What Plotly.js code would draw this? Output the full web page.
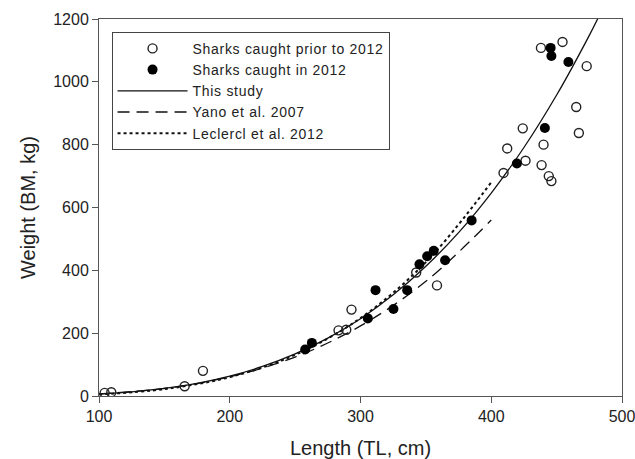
<!DOCTYPE html>
<html>
<head>
<meta charset="utf-8">
<script src="https://cdn.plot.ly/plotly-3.0.1.min.js"></script>
<style>html,body{margin:0;padding:0;background:#fff;}#chart{width:635px;height:459px;}
.legendtext{letter-spacing:0.7px;}</style>
</head>
<body>
<div id="chart"></div>
<script>
// Sharks caught prior to 2012 (open circles)
var priorLength = [104.3, 109.4, 165.5, 179.5, 283.2, 289.1, 293.1, 342.6, 358.5, 409.4, 412.2, 424.1, 426.2, 438, 438.5, 440, 444, 446, 454.5, 465, 467, 473];
var priorWeight = [10, 12, 31, 80, 209, 211, 275, 393, 352, 710, 788, 852, 749, 1108, 735, 800, 700, 684, 1127, 920, 837, 1050];

// Sharks caught in 2012 (filled circles)
var y2012Length = [257.7, 262.8, 305.6, 311.5, 325.2, 335.7, 345.1, 351, 356, 364.7, 385, 419.6, 441, 445.4, 446, 459];
var y2012Weight = [148, 169, 247, 337, 277, 337, 419, 445, 462, 432, 559, 740, 853, 1108, 1082, 1063];

// This study (solid curve)
var studyLength = [100, 125, 150, 175, 200, 225, 250, 275, 300, 325, 350, 375, 400, 425, 450, 475, 485];
var studyWeight = [6, 13, 24, 40, 63, 94, 134, 184, 246, 322, 413, 520, 646, 791, 958, 1148, 1231];

// Yano et al. 2007 (dashed curve)
var yanoLength = [100, 150, 200, 250, 300, 350, 400];
var yanoWeight = [7, 24, 61, 124, 223, 365, 560];

// Leclercl et al. 2012 (dotted curve)
var lecLength = [100, 150, 200, 250, 300, 350, 400];
var lecWeight = [5, 22, 60, 131, 248, 426, 680];

var xTicks = [100, 200, 300, 400, 500];
var yTicks = [0, 200, 400, 600, 800, 1000, 1200];

var FONT = 'Liberation Sans, Arial, sans-serif';

var traces = [
  {x: studyLength, y: studyWeight, mode: 'lines', name: 'This study', legendrank: 3,
   line: {color: '#111', width: 1.3, shape: 'spline'}},
  {x: yanoLength, y: yanoWeight, mode: 'lines', name: 'Yano et al. 2007', legendrank: 4,
   line: {color: '#111', width: 1.3, dash: '12px,7px', shape: 'spline'}},
  {x: lecLength, y: lecWeight, mode: 'lines', name: 'Leclercl et al. 2012', legendrank: 5,
   line: {color: '#111', width: 2, dash: 'dot', shape: 'spline'}},
  {x: priorLength, y: priorWeight, mode: 'markers', name: 'Sharks caught prior to 2012', legendrank: 1,
   marker: {symbol: 'circle-open', size: 9, color: '#222', line: {width: 1.4, color: '#222'}}},
  {x: y2012Length, y: y2012Weight, mode: 'markers', name: 'Sharks caught in 2012', legendrank: 2,
   marker: {symbol: 'circle', size: 10, color: '#000'}}
];

var layout = {
  width: 635, height: 459,
  margin: {l: 99, r: 13, t: 19, b: 63},
  paper_bgcolor: '#fff', plot_bgcolor: '#fff',
  font: {family: FONT, color: '#222', size: 16},
  showlegend: true,
  legend: {x: 0.024, y: 0.966, xanchor: 'left', yanchor: 'top',
           bgcolor: '#fff', bordercolor: '#444', borderwidth: 1,
           font: {family: FONT, size: 14, color: '#222'}, itemwidth: 70, tracegroupgap: 0},
  xaxis: {range: [100, 500], tickmode: 'array', tickvals: xTicks, ticktext: xTicks.map(String),
          showgrid: false, zeroline: false, showline: true, linecolor: '#555', linewidth: 1,
          mirror: true, ticks: 'outside', ticklen: 6, tickcolor: '#555', ticklabeloverflow: 'allow',
          tickfont: {size: 16, family: FONT, color: '#222'},
          title: {text: 'Length (TL, cm)', font: {size: 20, family: FONT, color: '#222'}, standoff: 16}},
  yaxis: {range: [0, 1200], tickmode: 'array', tickvals: yTicks, ticktext: yTicks.map(String),
          showgrid: false, zeroline: false, showline: true, linecolor: '#555', linewidth: 1,
          mirror: true, ticks: 'outside', ticklen: 6, tickcolor: '#555', ticklabeloverflow: 'allow',
          tickfont: {size: 16, family: FONT, color: '#222'},
          title: {text: 'Weight (BM, kg)', font: {size: 20, family: FONT, color: '#222'}, standoff: 12}}
};

Plotly.newPlot('chart', traces, layout, {displayModeBar: false, staticPlot: true});
</script>
</body>
</html>
